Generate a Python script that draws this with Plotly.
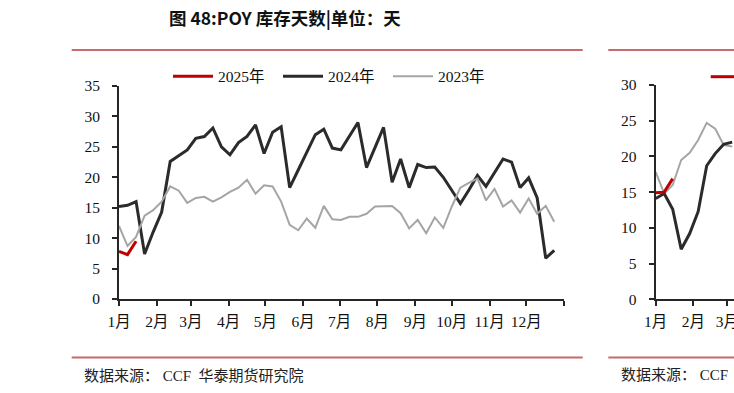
import datetime as dt
import plotly.graph_objects as go

# ---------------- data ----------------
base = dt.date(2023, 1, 1)

v2025 = [7.8, 7.3, 9.5]
v2024 = [15.2, 15.4, 16.0, 7.4, 11.0, 14.3, 22.6, 23.5, 24.5, 26.4, 26.7, 28.1, 25.0,
         23.7, 25.7, 26.7, 28.6, 23.9, 27.4, 28.3, 18.3, 21.2, 24.2, 27.0, 27.9, 24.8,
         24.5, 26.8, 29.0, 21.6, 24.9, 28.2, 19.2, 23.0, 18.3, 22.1, 21.6, 21.7, 20.0,
         17.8, 15.7, 17.9, 20.3, 18.5, 20.8, 23.0, 22.5, 18.3, 19.9, 16.6, 6.7, 8.0]
v2023 = [12.0, 8.7, 10.2, 13.7, 14.6, 16.0, 18.5, 17.8, 15.8, 16.6, 16.8, 16.0, 16.7,
         17.6, 18.3, 19.6, 17.3, 18.7, 18.5, 16.0, 12.2, 11.3, 13.2, 11.7, 15.3, 13.1,
         13.0, 13.5, 13.5, 14.0, 15.2, 15.2, 15.3, 14.1, 11.6, 13.0, 10.8, 13.4, 11.7,
         15.2, 18.3, 19.1, 19.8, 16.2, 18.1, 15.2, 16.2, 14.2, 16.5, 14.0, 15.3, 12.7]

# second (partially visible) chart
r2025 = [14.9, 15.0, 16.9]
r2024 = [14.1, 14.8, 12.6, 7.0, 9.2, 12.3, 18.7, 20.4, 21.7, 22.0]
r2023 = [17.8, 14.8, 16.0, 19.5, 20.5, 22.3, 24.7, 23.9, 21.6, 21.4]

month_labels = ["1月", "2月", "3月", "4月", "5月", "6月", "7月", "8月", "9月", "10月", "11月", "12月"]
series_names = ["2025年", "2024年", "2023年"]

title_text = "图 48:POY 库存天数|单位：天"
source_text = "数据来源：\u00a0CCF\u00a0\u00a0华泰期货研究院"
source_text2 = "数据来源：\u00a0CCF"


def weeks(n):
    return [base + dt.timedelta(days=7 * i) for i in range(n)]


month_ticks = [dt.date(2023, m, 1) for m in range(1, 13)] + [dt.date(2024, 1, 1)]
month_ticktext = month_labels + [""]

# ---------------- style ----------------
C_RED = "#c00000"
C_BLACK = "#2b2b2b"
C_GRAY = "#a5a5a5"
C_SEP = "#c86a6a"
SERIF = "Liberation Serif, 'Noto Sans CJK SC', serif"
FS = 15.5
W, H = 734, 393


def px_x(p):
    return p / W


def px_y(p):
    return 1 - p / H


fig = go.Figure()

fig.add_trace(go.Scatter(x=weeks(len(v2025)), y=v2025, name=series_names[0], mode="lines",
                         line=dict(color=C_RED, width=3), xaxis="x", yaxis="y"))
fig.add_trace(go.Scatter(x=weeks(len(v2024)), y=v2024, name=series_names[1], mode="lines",
                         line=dict(color=C_BLACK, width=3), xaxis="x", yaxis="y"))
fig.add_trace(go.Scatter(x=weeks(len(v2023)), y=v2023, name=series_names[2], mode="lines",
                         line=dict(color=C_GRAY, width=2), xaxis="x", yaxis="y"))

fig.add_trace(go.Scatter(x=weeks(len(r2023)), y=r2023, mode="lines", showlegend=False,
                         line=dict(color=C_GRAY, width=2), xaxis="x2", yaxis="y2"))
fig.add_trace(go.Scatter(x=weeks(len(r2024)), y=r2024, mode="lines", showlegend=False,
                         line=dict(color=C_BLACK, width=3), xaxis="x2", yaxis="y2"))
fig.add_trace(go.Scatter(x=weeks(len(r2025)), y=r2025, mode="lines", showlegend=False,
                         line=dict(color=C_RED, width=3), xaxis="x2", yaxis="y2"))

axis_common = dict(showgrid=False, zeroline=False, showline=True, linecolor="#262626",
                   linewidth=2, ticks="outside", ticklen=5, tickwidth=1.5, tickcolor="#262626",
                   automargin=False,
                   tickfont=dict(family=SERIF, size=FS, color="#111111"))

fig.update_layout(
    width=W, height=H, autosize=False,
    margin=dict(l=0, r=0, t=0, b=0, pad=0),
    paper_bgcolor="white", plot_bgcolor="white",
    xaxis=dict(domain=[px_x(119), px_x(564)], type="date",
               range=[dt.datetime(2023, 1, 1), dt.datetime(2024, 1, 1)],
               tickmode="array", tickvals=month_ticks, ticktext=month_ticktext,
               ticklabelstandoff=2, anchor="y", **axis_common),
    yaxis=dict(domain=[px_y(299), px_y(86)], range=[0, 35], tickmode="array",
               tickvals=list(range(0, 36, 5)), ticklabelstandoff=9, anchor="x", **axis_common),
    xaxis2=dict(domain=[px_x(655.7), 1], type="date",
                range=[dt.datetime(2023, 1, 1), dt.datetime(2023, 3, 6, 12)],
                tickmode="array", tickvals=month_ticks[:3], ticktext=month_labels[:3],
                ticklabelstandoff=2, ticklabeloverflow="allow", anchor="y2", **axis_common),
    yaxis2=dict(domain=[px_y(299.3), px_y(85)], range=[0, 30], tickmode="array",
                tickvals=list(range(0, 31, 5)), ticklabelstandoff=9, anchor="x2", **axis_common),
    legend=dict(orientation="h", x=px_x(168), xanchor="left", y=px_y(76.7), yanchor="middle",
                itemwidth=40, entrywidth=55, entrywidthmode="pixels", bgcolor="rgba(0,0,0,0)",
                font=dict(family=SERIF, size=FS, color="#111111"), traceorder="normal"),
    showlegend=True,
)

# separator lines
for x0, x1 in [(71.7, 582.7), (608.3, 734)]:
    for yy in (50, 357.5):
        fig.add_shape(type="line", xref="paper", yref="paper",
                      x0=px_x(x0), x1=px_x(x1), y0=px_y(yy), y1=px_y(yy),
                      line=dict(color=C_SEP, width=2))

# partial legend sample of the second chart
fig.add_shape(type="line", xref="paper", yref="paper", x0=px_x(710.7), x1=1,
              y0=px_y(76.7), y1=px_y(76.7), line=dict(color=C_RED, width=3))

fig.add_annotation(text="<b>" + title_text + "</b>", xref="paper", yref="paper",
                   x=px_x(285), y=px_y(18), xanchor="center", yanchor="middle", showarrow=False,
                   font=dict(family="'Noto Sans CJK SC', sans-serif", size=17.5, color="#111111"))
fig.add_annotation(text=source_text, xref="paper", yref="paper",
                   x=px_x(82), y=px_y(375), xanchor="left", yanchor="middle", showarrow=False,
                   font=dict(family=SERIF, size=15, color="#222222"))
fig.add_annotation(text=source_text2, xref="paper", yref="paper",
                   x=px_x(619), y=px_y(375), xanchor="left", yanchor="middle", showarrow=False,
                   font=dict(family=SERIF, size=15, color="#222222"))

fig.write_html(
    "out.html",
    config={"displayModeBar": False},
    post_script="document.body.style.margin='0';document.body.style.overflow='hidden';",
)
